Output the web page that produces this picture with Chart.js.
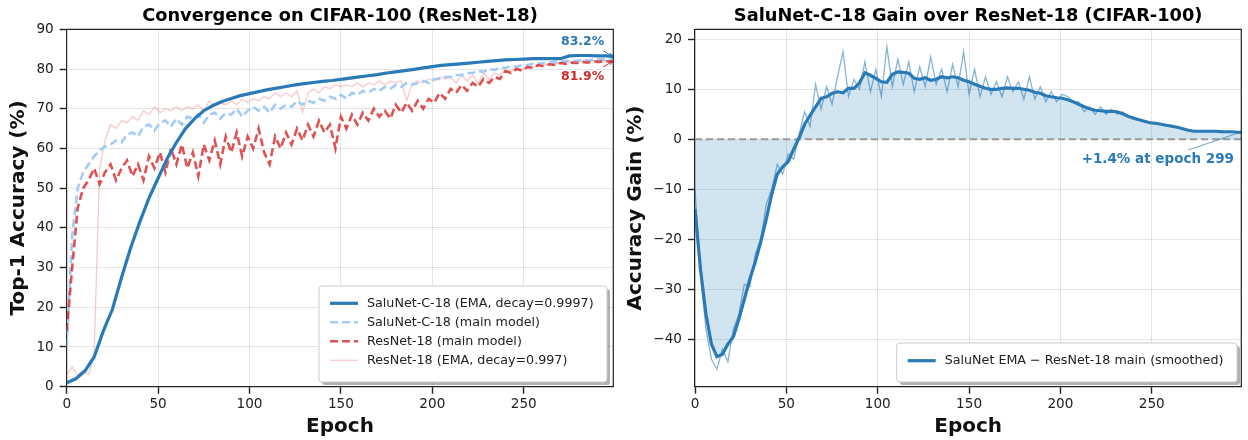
<!DOCTYPE html>
<html>
<head>
<meta charset="utf-8">
<script src="https://cdn.jsdelivr.net/npm/chart.js@4.4.0/dist/chart.umd.min.js"></script>
<style>
  html, body { margin: 0; padding: 0; background: #fff; }
  #wrap { position: relative; width: 1248px; height: 440px; }
  canvas { position: absolute; top: 0; }
  #acc { left: 0; }
  #gain { left: 624px; }
</style>
</head>
<body>
<div id="wrap">
  <canvas id="acc" width="624" height="440"></canvas>
  <canvas id="gain" width="624" height="440"></canvas>
</div>
<script>
// epochs sampled every 3 (plus the last one)
const EPOCHS = [
  0, 3, 6, 9, 12, 15, 18, 21, 24, 27,
  30, 33, 36, 39, 42, 45, 48, 51, 54, 57,
  60, 63, 66, 69, 72, 75, 78, 81, 84, 87,
  90, 93, 96, 99, 102, 105, 108, 111, 114, 117,
  120, 123, 126, 129, 132, 135, 138, 141, 144, 147,
  150, 153, 156, 159, 162, 165, 168, 171, 174, 177,
  180, 183, 186, 189, 192, 195, 198, 201, 204, 207,
  210, 213, 216, 219, 222, 225, 228, 231, 234, 237,
  240, 243, 246, 249, 252, 255, 258, 261, 264, 267,
  270, 273, 276, 279, 282, 285, 288, 291, 294, 297, 299
];
const EMA_EPOCHS = [
  0, 5, 10, 15, 20, 25, 30, 35, 40, 45,
  50, 55, 60, 65, 70, 75, 80, 85, 90, 95,
  100, 105, 110, 115, 120, 125, 130, 135, 140, 145,
  150, 155, 160, 165, 170, 175, 180, 185, 190, 195,
  200, 205, 210, 215, 220, 225, 230, 235, 240, 245,
  250, 255, 260, 265, 270, 275, 280, 285, 290, 295, 299
];

// Top-1 accuracy (%)
const SALU_EMA = [
  1, 2, 4, 7.5, 14, 19.5, 27.5, 35, 41.5, 47.5,
  52.5, 57.5, 61.5, 65, 67.5, 69.5, 70.8, 71.8, 72.6, 73.3,
  73.8, 74.3, 74.8, 75.2, 75.6, 76, 76.3, 76.6, 76.9, 77.1,
  77.4, 77.7, 78, 78.3, 78.6, 79, 79.3, 79.6, 79.9, 80.3,
  80.6, 80.9, 81.1, 81.3, 81.5, 81.7, 81.9, 82.1, 82.3, 82.4,
  82.5, 82.6, 82.6, 82.6, 82.6, 83.3, 83.4, 83.4, 83.3, 83.3, 83.2
];
const SALU_MAIN = [
  10, 38, 50, 54, 56, 58, 59.5, 60.5, 61, 62,
  61.5, 63.5, 64, 63, 65.5, 66, 64.5, 66.5, 67, 65.5,
  67.5, 66, 68, 67.5, 68.5, 66.5, 68.5, 69, 67.5, 69,
  68.5, 70, 68, 69.5, 70.5, 69.5, 70.5, 69, 71, 70,
  71, 70.5, 72, 71, 72, 71.5, 72.5, 72, 73, 72.5,
  73.5, 72.5, 74, 73.5, 74.5, 74, 75, 74.5, 75.5, 75,
  76, 75.5, 76.5, 76, 76.5, 77, 76.5, 77.5, 77.5, 78,
  78, 78.5, 78.5, 79, 79, 79.5, 79.3, 80, 79.8, 80.3,
  80.3, 80.7, 80.6, 81, 81, 81.3, 81.4, 81.5, 81.6, 81.8,
  81.8, 82, 82, 82.1, 82.2, 82.2, 82.3, 82.4, 82.4, 82.5, 82.5
];
const RES_MAIN = [
  14, 30, 45, 50, 52, 55, 51, 54, 56, 52,
  55, 57, 53, 56, 52, 58, 55, 59, 54, 60,
  56, 61, 55, 59, 53, 61, 57, 62, 56, 63,
  59, 64, 58, 63, 60, 65, 59, 56, 63, 60,
  64, 61, 65, 62, 66, 63, 67, 64, 66, 60,
  68, 65, 68.5, 66, 69, 67, 70, 68, 69.5, 67.5,
  71, 69, 71.5, 69.5, 72, 70, 72.5, 71.5, 74, 72.5,
  75, 74, 76, 74.5, 76.5, 75.5, 77.5, 76.5, 78, 77.5,
  79.5, 79, 80, 79.6, 80.5, 80.3, 81, 80.7, 81.2, 81,
  81.5, 81.3, 81.6, 81.5, 81.8, 81.6, 81.9, 81.8, 82, 81.9, 81.9
];
const RES_EMA = [
  3, 5, 3, 4, 3, 8, 55, 62, 66, 65,
  67, 66.5, 68, 67, 69.5, 68.5, 70.5, 69, 70, 69.5,
  70.5, 69.5, 70.5, 70, 71, 69.5, 72, 70.5, 71.5, 71,
  72, 71, 72.5, 71.5, 72.5, 72, 73, 72.5, 74, 73,
  74, 73, 74.5, 69, 74, 75, 74, 75.5, 75, 76,
  75.5, 76, 75.5, 76.5, 75.5, 76.5, 76, 77, 76, 77,
  76.5, 77, 72, 76.5, 77, 76.5, 77.5, 77, 78, 77.5,
  78, 76.5, 78.5, 77, 78.5, 76.5, 79, 77.5, 79, 78.5,
  79.5, 79.5, 80, 80, 80.5, 80.5, 81, 81, 81.3, 81.3,
  81.6, 81.6, 81.8, 81.8, 82, 82, 82, 82.1, 82.2, 82.2, 82.2
];

// accuracy gain (%) = SaluNet EMA - ResNet-18 main
const GAIN_RAW = [
  -10, -27, -38, -44, -46, -42, -44.5, -38, -35, -29,
  -29.5, -23, -20, -13, -10, -5, -7, -3, -4, 1,
  5.5, 2.5, 11, 6, 10.5, 7, 12.5, 17.5, 8.5, 12,
  10, 15.5, 9.5, 14, 8.5, 18.5, 10.5, 16, 11, 15.5,
  9.5, 14.5, 10.5, 16.5, 11, 14, 9.5, 15, 10.5, 17.5,
  9, 14, 8.5, 12.5, 9, 11.5, 8.5, 12.5, 9.5, 11.5,
  8, 12.5, 8, 10.5, 7.5, 9.5, 7.5, 9, 8.5, 7.5,
  7.5, 5.5, 6.5, 5, 6.5, 5, 6, 5, 5.5, 4.5,
  4.5, 4, 3.5, 3.5, 3, 3.2, 2.6, 2.8, 2.3, 2.2,
  1.8, 1.5, 1.7, 1.5, 1.6, 1.5, 1.6, 1.4, 1.5, 1.4, 1.4
];
const GAIN_SMOOTH = [
  -14, -26, -35, -41, -43.5, -43, -41, -39.5, -36, -32,
  -28, -24.5, -20.5, -16, -11, -7, -5.5, -4.5, -2, 0.3,
  3, 4.8, 6.5, 8.2, 8.5, 9.2, 9.5, 9.3, 10.2, 10.2,
  11.3, 13.3, 12.8, 12.2, 11.5, 11.4, 13, 13.5, 13.4, 13.2,
  12.2, 12, 12.3, 11.8, 12, 12.5, 12.3, 12.5, 12.3, 11.8,
  11.5, 11, 10.6, 10.2, 10, 10, 10.2, 10.3, 10.2, 10.2,
  10, 9.8, 9.4, 9.2, 8.7, 8.5, 8.3, 8.2, 7.9, 7.5,
  7, 6.5, 6.1, 5.8, 5.7, 5.6, 5.6, 5.5, 5.1, 4.6,
  4.2, 3.9, 3.6, 3.3, 3.2, 3, 2.8, 2.6, 2.4, 2.1,
  1.8, 1.6, 1.6, 1.6, 1.6, 1.6, 1.5, 1.5, 1.5, 1.4, 1.4
];

const X_TICKS = [0, 50, 100, 150, 200, 250];
const ACC_TICKS = [0, 10, 20, 30, 40, 50, 60, 70, 80, 90];
const GAIN_TICKS = [-40, -30, -20, -10, 0, 10, 20];

const BLUE = '#2a7ab8';
const FONT = '"DejaVu Sans", sans-serif';
Chart.defaults.font.family = FONT;
Chart.defaults.color = '#222';

function pts(xs, ys) {
  return xs.map((x, i) => ({ x: x, y: ys[i] }));
}
const minus = v => String(v).replace('-', '\u2212');

function xScale() {
  return {
    type: 'linear', min: 0, max: 299,
    afterBuildTicks: s => { s.ticks = X_TICKS.map(v => ({ value: v })); },
    afterFit: s => { s.height = 53.3; },
    grid: { color: 'rgba(0,0,0,0.1)', lineWidth: 1, tickColor: '#222', tickWidth: 1.4, tickLength: 7 },
    border: { color: '#222', width: 1.2 },
    ticks: { color: '#222', font: { size: 13.6 }, padding: 3, maxRotation: 0, autoSkip: false },
    title: { display: true, text: 'Epoch', color: '#111', font: { size: 20, weight: 'bold' }, padding: { top: 0, bottom: 1 } }
  };
}

function yScale(min, max, ticks, width, title, titlePad) {
  return {
    type: 'linear', min: min, max: max,
    afterBuildTicks: s => { s.ticks = ticks.map(v => ({ value: v })); },
    afterFit: s => { s.width = width; },
    grid: { color: 'rgba(0,0,0,0.1)', lineWidth: 1, tickColor: '#222', tickWidth: 1.4, tickLength: 7 },
    border: { color: '#222', width: 1.2 },
    ticks: { color: '#222', font: { size: 13.6 }, padding: 6, callback: minus },
    title: { display: true, text: title, color: '#111', font: { size: 20, weight: 'bold' }, padding: { top: titlePad, bottom: 0 } }
  };
}

// title centred over the plot area
const plotTitle = {
  id: 'plotTitle',
  afterDraw(chart, args, o) {
    const { ctx, chartArea: a } = chart;
    ctx.save();
    ctx.font = 'bold 17.8px ' + FONT;
    ctx.fillStyle = '#000';
    ctx.textAlign = 'center';
    ctx.textBaseline = 'middle';
    ctx.fillText(o.text, (a.left + a.right) / 2, 16);
    ctx.restore();
  }
};

// top and right spines
const frame = {
  id: 'frame',
  afterDatasetsDraw(chart) {
    const { ctx, chartArea: a } = chart;
    ctx.save();
    ctx.strokeStyle = '#222';
    ctx.lineWidth = 1.2;
    ctx.beginPath();
    ctx.moveTo(a.left, a.top);
    ctx.lineTo(a.right, a.top);
    ctx.lineTo(a.right, a.bottom);
    ctx.stroke();
    ctx.restore();
  }
};

function arrow(ctx, sx, sy, ex, ey, head) {
  ctx.beginPath();
  ctx.moveTo(sx, sy);
  ctx.lineTo(ex, ey);
  if (head) {
    const ang = Math.atan2(ey - sy, ex - sx);
    ctx.moveTo(ex - head * Math.cos(ang - 0.45), ey - head * Math.sin(ang - 0.45));
    ctx.lineTo(ex, ey);
    ctx.lineTo(ex - head * Math.cos(ang + 0.45), ey - head * Math.sin(ang + 0.45));
  }
  ctx.stroke();
}

// annotations with a pointer to the last value
const notes = {
  id: 'notes',
  afterDatasetsDraw(chart, args, opts) {
    const { ctx, scales: { x, y } } = chart;
    ctx.save();
    opts.items.forEach(it => {
      const px = x.getPixelForValue(it.x);
      const py = y.getPixelForValue(it.y);
      ctx.font = 'bold ' + it.size + 'px ' + FONT;
      ctx.textAlign = it.align;
      ctx.textBaseline = 'middle';
      ctx.fillStyle = it.color;
      ctx.fillText(it.text, px + it.dx, py + it.dy);
      ctx.strokeStyle = it.lineColor;
      ctx.lineWidth = 1;
      arrow(ctx, px + it.lx, py + it.ly, px - 1, py, it.head);
    });
    ctx.restore();
  }
};

// horizontal dashed reference at 0
const zeroLine = {
  id: 'zeroLine',
  beforeDatasetsDraw(chart) {
    const { ctx, chartArea: a, scales: { y } } = chart;
    const py = y.getPixelForValue(0);
    ctx.save();
    ctx.strokeStyle = '#999';
    ctx.lineWidth = 2;
    ctx.setLineDash([7, 4]);
    ctx.beginPath();
    ctx.moveTo(a.left, py);
    ctx.lineTo(a.right, py);
    ctx.stroke();
    ctx.restore();
  }
};

function roundRect(ctx, x, y, w, h, r) {
  ctx.beginPath();
  ctx.moveTo(x + r, y);
  ctx.arcTo(x + w, y, x + w, y + h, r);
  ctx.arcTo(x + w, y + h, x, y + h, r);
  ctx.arcTo(x, y + h, x, y, r);
  ctx.arcTo(x, y, x + w, y, r);
  ctx.closePath();
}

// matplotlib-like legend box with a shadow
const boxLegend = {
  id: 'boxLegend',
  afterDraw(chart, args, o) {
    const { ctx } = chart;
    ctx.save();
    ctx.fillStyle = 'rgba(0,0,0,0.3)';
    roundRect(ctx, o.x + 3, o.y + 3, o.w, o.h, 3);
    ctx.fill();
    ctx.fillStyle = '#fff';
    roundRect(ctx, o.x, o.y, o.w, o.h, 3);
    ctx.fill();
    ctx.strokeStyle = '#ccc';
    ctx.lineWidth = 1;
    ctx.stroke();
    ctx.font = '12.7px ' + FONT;
    ctx.textBaseline = 'middle';
    ctx.textAlign = 'left';
    o.items.forEach((idx, i) => {
      const ds = chart.data.datasets[idx];
      const cy = o.y + o.first + i * o.rowH;
      ctx.strokeStyle = ds.borderColor;
      ctx.lineWidth = ds.borderWidth;
      ctx.setLineDash(ds.borderDash || []);
      ctx.beginPath();
      ctx.moveTo(o.x + 11, cy);
      ctx.lineTo(o.x + 39, cy);
      ctx.stroke();
      ctx.setLineDash([]);
      ctx.fillStyle = '#222';
      ctx.fillText(ds.label, o.x + 48, cy);
    });
    ctx.restore();
  }
};

const common = {
  responsive: false,
  animation: false,
  events: [],
  elements: { point: { radius: 0 }, line: { tension: 0 } }
};

new Chart(document.getElementById('acc'), {
  type: 'line',
  data: {
    datasets: [
      { label: 'SaluNet-C-18 (EMA, decay=0.9997)', data: pts(EMA_EPOCHS, SALU_EMA),
        borderColor: BLUE, borderWidth: 3.2, order: 0, fill: false },
      { label: 'SaluNet-C-18 (main model)', data: pts(EPOCHS, SALU_MAIN),
        borderColor: '#a3cbf7', borderWidth: 2.6, borderDash: [8, 4], order: 2, fill: false },
      { label: 'ResNet-18 (main model)', data: pts(EPOCHS, RES_MAIN),
        borderColor: 'rgba(214,39,40,0.8)', borderWidth: 2.6, borderDash: [8, 4], order: 1, fill: false },
      { label: 'ResNet-18 (EMA, decay=0.997)', data: pts(EPOCHS, RES_EMA),
        borderColor: 'rgba(230,60,60,0.28)', borderWidth: 1.3, order: 3, fill: false }
    ]
  },
  options: Object.assign({}, common, {
    layout: { padding: { left: 0, right: 10.7, top: 29.3, bottom: 0 } },
    scales: {
      x: xScale(),
      y: yScale(0, 90, ACC_TICKS, 66.7, 'Top-1 Accuracy (%)', 6.5)
    },
    plugins: {
      legend: { display: false },
      tooltip: { enabled: false },
      plotTitle: { text: 'Convergence on CIFAR-100 (ResNet-18)' },
      notes: { items: [
        { x: EMA_EPOCHS[EMA_EPOCHS.length - 1], y: SALU_EMA[SALU_EMA.length - 1],
          text: SALU_EMA[SALU_EMA.length - 1].toFixed(1) + '%', color: BLUE, lineColor: BLUE,
          size: 12.5, align: 'right', dx: -9, dy: -14.4, lx: -10, ly: -5.5, head: 4 },
        { x: EPOCHS[EPOCHS.length - 1], y: RES_MAIN[RES_MAIN.length - 1],
          text: RES_MAIN[RES_MAIN.length - 1].toFixed(1) + '%', color: '#d62728', lineColor: '#d62728',
          size: 12.5, align: 'right', dx: -9, dy: 15.5, lx: -10, ly: 5.5, head: 4 }
      ] },
      boxLegend: { x: 319, y: 286, w: 288, h: 96, first: 17.3, rowH: 19, items: [0, 1, 2, 3] }
    }
  }),
  plugins: [plotTitle, frame, notes, boxLegend]
});

new Chart(document.getElementById('gain'), {
  type: 'line',
  data: {
    datasets: [
      { label: 'SaluNet EMA \u2212 ResNet-18 main (smoothed)', data: pts(EPOCHS, GAIN_SMOOTH),
        borderColor: BLUE, borderWidth: 3.2, order: 0,
        fill: 'origin', backgroundColor: 'rgba(31,119,180,0.2)' },
      { label: 'raw', data: pts(EPOCHS, GAIN_RAW),
        borderColor: 'rgba(31,119,180,0.55)', borderWidth: 1.3, order: 1, fill: false }
    ]
  },
  options: Object.assign({}, common, {
    layout: { padding: { left: 0, right: 6.7, top: 29.3, bottom: 0 } },
    scales: {
      x: xScale(),
      y: yScale(-49.5, 22, GAIN_TICKS, 71, 'Accuracy Gain (%)', 0)
    },
    plugins: {
      legend: { display: false },
      tooltip: { enabled: false },
      filler: { drawTime: 'beforeDatasetsDraw' },
      plotTitle: { text: 'SaluNet-C-18 Gain over ResNet-18 (CIFAR-100)' },
      notes: { items: [
        { x: EPOCHS[EPOCHS.length - 1], y: GAIN_SMOOTH[GAIN_SMOOTH.length - 1],
          text: '+' + GAIN_SMOOTH[GAIN_SMOOTH.length - 1].toFixed(1) + '% at epoch ' + EPOCHS[EPOCHS.length - 1],
          color: BLUE, lineColor: 'rgba(42,122,184,0.7)',
          size: 13.5, align: 'center', dx: -83.5, dy: 27.7, lx: -53, ly: 17.7, head: 0 }
      ] },
      boxLegend: { x: 272.7, y: 343, w: 340.3, h: 39, first: 17.7, rowH: 19, items: [0] }
    }
  }),
  plugins: [zeroLine, plotTitle, frame, notes, boxLegend]
});
</script>
</body>
</html>
